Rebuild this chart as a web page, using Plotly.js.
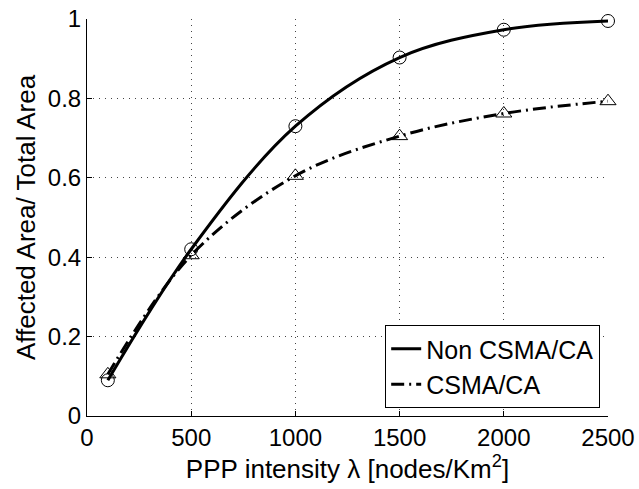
<!DOCTYPE html>
<html>
<head>
<meta charset="utf-8">
<script src="https://cdn.plot.ly/plotly-3.0.1.min.js"></script>
<style>html,body{margin:0;padding:0;background:#fff;}#chart{width:639px;height:489px;}</style>
</head>
<body>
<div id="chart"></div>
<script>
const intensity = [100, 500, 1000, 1500, 2000, 2500];
const nonCsma = [0.09, 0.42, 0.73, 0.903, 0.973, 0.995];
const csma = [0.105, 0.405, 0.605, 0.705, 0.762, 0.793];
const seriesNames = ["Non CSMA/CA", "CSMA/CA"];
const xTicks = [0, 500, 1000, 1500, 2000, 2500];
const yTicks = [0, 0.2, 0.4, 0.6, 0.8, 1];
const yTickLabels = ["0", "0.2", "0.4", "0.6", "0.8", "1"];

const FONT = "'Liberation Sans', Arial, Helvetica, sans-serif";
const FS = 24;
const TFS = 26;
const traces = [
  {x: intensity, y: nonCsma, name: seriesNames[0], mode: "lines", type: "scatter", cliponaxis: false,
   line: {color: "#000", width: 3, shape: "spline", smoothing: 1}},
  {x: intensity, y: csma, name: seriesNames[1], mode: "lines", type: "scatter", cliponaxis: false,
   line: {color: "#000", width: 3, shape: "spline", smoothing: 1, dash: "13px,5px,2px,5px"}},
  {x: intensity, y: nonCsma, mode: "markers", type: "scatter", showlegend: false, hoverinfo: "skip", cliponaxis: false,
   marker: {symbol: "circle-open", size: 13, color: "#000", line: {width: 1, color: "#000"}}},
  {x: intensity, y: csma, mode: "markers", type: "scatter", showlegend: false, hoverinfo: "skip", cliponaxis: false,
   marker: {symbol: "triangle-up-open", size: 14, color: "#000", line: {width: 1, color: "#000"}}}
];

const axisCommon = {
  showline: true, linecolor: "#000", linewidth: 1, mirror: false,
  ticks: "inside", ticklen: 5, tickcolor: "#000", tickwidth: 1,
  showgrid: true, gridcolor: "#444", gridwidth: 1, griddash: "1px,5px",
  zeroline: false, tickfont: {family: FONT, size: FS, color: "#000"}
};

const layout = {
  width: 639, height: 489,
  margin: {l: 87, r: 31, t: 19, b: 73},
  paper_bgcolor: "#fff", plot_bgcolor: "#fff",
  font: {family: FONT, color: "#000"},
  xaxis: Object.assign({}, axisCommon, {
    range: [0, 2500], tickmode: "array", tickvals: xTicks,
    title: {text: "PPP intensity λ [nodes/Km<sup>2</sup>]", font: {family: FONT, size: TFS, color: "#000"}, standoff: 2}
  }),
  yaxis: Object.assign({}, axisCommon, {
    range: [0, 1], tickmode: "array", tickvals: yTicks, ticktext: yTickLabels,
    title: {text: "Affected Area/ Total Area", font: {family: FONT, size: TFS, color: "#000"}, standoff: 4}
  }),
  legend: {
    x: 0.985, xanchor: "right", y: 0.02, yanchor: "bottom",
    bgcolor: "#fff", bordercolor: "#000", borderwidth: 1,
    font: {family: FONT, size: 25, color: "#000"}, tracegroupgap: 0
  },
  showlegend: true
};

Plotly.newPlot("chart", traces, layout, {displayModeBar: false, staticPlot: true});
</script>
</body>
</html>
